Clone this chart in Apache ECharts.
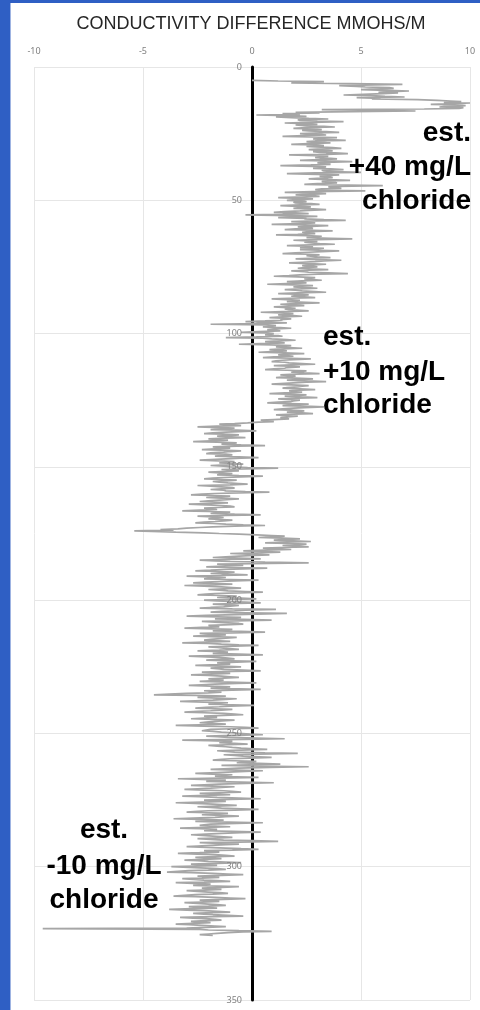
<!DOCTYPE html>
<html>
<head>
<meta charset="utf-8">
<script src="https://cdn.jsdelivr.net/npm/echarts@6/dist/echarts.min.js"></script>
<style>html,body{margin:0;padding:0;background:#fff}#c{width:480px;height:1010px}</style>
</head>
<body>
<div id="c"></div>
<script>
// Depth (m) of the first sample of each segment; samples every 0.25 m
const segStarts = [5, 19, 51, 101, 134, 174, 176, 184, 230, 290];
const depthStep = 0.25;
const xTicks = [-10, -5, 0, 5, 10];
const yTicks = [0, 50, 100, 150, 200, 250, 300, 350];
const titleText = 'CONDUCTIVITY DIFFERENCE MMOHS/M';

const segA = [
  0, 1.2, 3.3, 2.0, 1.8, 4.5, 6.9, 5.6, 4.0, 4.8, 5.2, 6.3, 6.5, 5.4, 5.0, 6.2, 7.2, 6.4, 5.8, 6.7,
  6.0, 5.1, 4.2, 5.5, 6.1, 7.0, 4.8, 5.9, 5.5, 7.6, 8.5, 9.1, 9.6, 8.8, 10.0, 9.3, 8.2, 9.5, 9.8, 8.9,
  8.6, 9.7, 9.5, 7.9, 3.2, 5.8, 7.5, 4.6, 2.0, 3.1, 1.4, 2.2, 0.2, 1.6, 2.5, 1.1];
const segB = [
  1.8, 2.6, 3.5, 2.1, 2.2, 3.0, 4.2, 2.7, 1.5, 2.4, 3.0, 2.0, 2.4, 3.3, 3.8, 2.5, 1.9, 2.8, 3.2, 2.3,
  2.6, 3.4, 4.0, 2.9, 2.2, 3.1, 3.4, 2.4, 1.4, 2.7, 3.9, 3.0, 2.8, 3.5, 4.3, 2.9, 2.5, 3.2, 3.6, 2.6,
  1.8, 2.9, 3.3, 2.5, 2.9, 3.7, 4.1, 3.2, 2.6, 3.3, 3.7, 2.8, 3.1, 3.8, 4.4, 3.4, 1.7, 2.9, 3.5, 3.0,
  2.9, 3.6, 3.9, 3.1, 2.2, 3.4, 4.6, 3.3, 3.0, 3.5, 3.6, 2.7, 1.3, 2.8, 3.4, 3.1, 2.8, 3.6, 4.2, 3.2,
  3.3, 3.7, 5.0, 2.9, 1.6, 3.0, 4.0, 3.4, 3.1, 3.6, 3.7, 3.0, 2.6, 3.5, 4.5, 3.3, 3.2, 3.8, 3.9, 3.0,
  2.4, 3.6, 6.0, 3.9, 3.5, 3.8, 4.1, 3.2, 2.9, 3.4, 5.2, 2.8, 1.5, 2.7, 3.4, 2.6, 2.0, 2.8, 3.1, 2.4,
  1.2, 2.2, 2.8, 2.0, 1.6, 2.4, 2.5, 1.9];
const segC = [
  2.0, 2.7, 3.1, 2.2, 1.3, 2.1, 2.7, 2.4, 1.9, 2.8, 3.4, 2.6, 2.2, 1.5, 1.0, 2.0, 2.6, 1.4, -0.3, 1.8,
  3.0, 2.3, 1.2, 2.5, 2.4, 3.3, 4.3, 2.9, 1.8, 2.6, 2.9, 2.2, 0.9, 2.4, 3.5, 2.7, 2.1, 2.6, 2.8, 2.0,
  1.5, 2.8, 3.7, 2.6, 2.3, 2.7, 2.9, 2.1, 1.1, 2.5, 3.2, 2.8, 2.5, 3.6, 4.6, 3.0, 1.9, 2.6, 3.0, 2.4,
  2.4, 3.1, 3.8, 2.7, 1.6, 2.5, 2.8, 2.2, 3.3, 2.9, 2.2, 3.1, 4.0, 3.2, 2.6, 2.0, 1.4, 2.6, 3.1, 2.5,
  2.7, 3.0, 3.6, 2.6, 2.0, 3.0, 4.1, 3.3, 2.9, 2.3, 1.7, 2.6, 3.4, 2.8, 2.3, 2.7, 3.0, 2.4, 2.1, 2.6,
  3.5, 2.6, 1.8, 2.4, 2.6, 3.5, 4.4, 3.0, 2.2, 1.7, 1.0, 2.1, 2.9, 2.5, 2.4, 2.8, 3.2, 2.3, 1.6, 2.2,
  2.5, 1.6, 0.7, 1.9, 2.8, 2.3, 1.9, 2.5, 3.0, 2.2, 1.5, 2.0, 2.3, 2.9, 3.4, 2.1, 1.2, 2.0, 2.6, 2.0,
  1.8, 2.4, 2.9, 1.7, 0.9, 1.6, 2.2, 1.8, 1.6, 2.5, 3.1, 2.0, 1.3, 1.9, 2.4, 1.6, 1.0, 1.6, 2.0, 1.5,
  1.7, 2.2, 2.6, 1.4, 0.4, 1.3, 1.9, 1.5, 1.2, 1.9, 2.3, 1.4, 0.8, 1.4, 1.8, 1.3, 1.4, 0.6, -0.3, 1.0,
  1.6, 0.2, -1.9, 0.6, 1.1, 0.8, 0.5, 1.3, 1.8, 1.1, 0.7, 1.0, 1.3, 0.3, -0.5, 0.6, 1.0, 0.8, 0.6, 1.2];
const segD = [
  1.4, 0.2, -1.2, 0.5, 0.9, 1.6, 2.0, 1.2, 0.6, 1.1, 1.5, 0.4, -0.6, 0.9, 1.8, 1.3, 1.1, 1.7, 2.3, 1.4,
  0.8, 1.3, 1.6, 0.9, 0.3, 1.5, 2.4, 1.6, 1.2, 1.6, 1.9, 1.0, 0.5, 1.8, 2.7, 1.9, 1.4, 1.1, 0.9, 1.5,
  1.7, 2.3, 2.9, 1.8, 1.0, 1.7, 2.2, 1.6, 1.5, 1.0, 0.6, 1.6, 2.5, 2.1, 1.8, 2.4, 3.1, 2.0, 1.3, 1.8,
  2.0, 1.5, 1.1, 2.0, 2.8, 2.2, 1.6, 2.5, 3.4, 2.5, 1.9, 1.3, 0.9, 1.8, 2.6, 2.3, 2.1, 1.6, 1.4, 2.2,
  2.9, 2.2, 1.7, 2.0, 2.3, 1.5, 0.8, 1.7, 2.5, 2.0, 1.5, 2.3, 3.0, 2.1, 1.2, 1.7, 2.2, 1.9, 1.8, 1.2,
  0.7, 1.7, 2.6, 2.0, 1.4, 2.4, 3.3, 2.4, 1.9, 1.4, 1.0, 1.8, 2.4, 2.0, 1.6, 2.3, 2.8, 1.9, 1.1, 1.6,
  2.1, 1.6, 1.3, 1.5, 1.7, 1.0, 0.4, 0.8, 1.0, 0.3, -0.2, -0.8];
const segE = [
  -1.5, -0.9, -0.5, -1.6, -2.5, -1.4, -0.8, -1.3, -1.9, -0.7, 0.2, -0.6, -1.2, -1.8, -2.2, -1.3, -0.6, -1.1, -1.6, -1.0,
  -0.3, -1.2, -2.0, -1.4, -1.1, -1.9, -2.7, -1.6, -0.7, -1.0, -1.4, -0.5, 0.6, -0.7, -1.8, -1.3, -1.0, -1.7, -2.3, -1.4,
  -0.5, -1.0, -1.3, -1.9, -2.1, -1.2, -0.9, -1.4, -1.7, -0.6, 0.3, -0.5, -1.2, -1.9, -2.4, -1.5, -0.8, -1.2, -1.5, -0.9,
  -0.4, -1.2, -1.9, -1.3, -1.0, -0.2, 1.2, -0.3, -1.4, -1.0, -0.6, -1.4, -2.0, -1.5, -0.9, -1.3, -1.6, -0.6, 0.5, -0.5,
  -1.3, -1.8, -2.2, -1.4, -0.7, -1.2, -1.8, -1.5, -1.1, -0.6, -0.2, -1.0, -2.5, -1.9, -1.4, -0.9, -0.8, -1.4, -1.9, -1.3,
  -1.2, -0.3, 0.8, -0.6, -1.7, -2.3, -2.8, -1.9, -1.0, -1.6, -2.1, -1.4, -0.6, -1.0, -1.5, -2.0, -2.4, -1.7, -1.1, -1.9,
  -2.9, -2.1, -1.4, -1.0, -0.8, -1.6, -2.2, -1.8, -1.6, -2.4, -3.2, -2.0, -1.0, -1.5, -1.9, -0.8, 0.4, -1.2, -2.5, -1.8,
  -1.3, -1.7, -2.0, -1.4, -0.9, -1.3, -1.7, -2.2, -2.6, -1.8, -1.2, -0.4, 0.6, -0.8, -1.8, -2.4, -3.0, -3.4, -4.2, -3.6];
const segSpike = [-5.4, -4.6, -3.5, -2.2, -1.5, -0.6, 0.2, 0.9];
const segF = [
  1.5, 0.8, 0.3, 1.4, 2.2, 1.5, 1.0, 1.9, 2.7, 1.6, 0.6, 1.7, 2.5, 2.0, 1.4, 2.1, 2.6, 1.3, 0.5, 1.2,
  1.8, 0.6, -0.4, 0.5, 1.3, 0.2, -1.0, -0.2, 0.8, 0.1, -0.6, -1.2];
const segG = [
  -1.8, -0.6, 0.4, -1.1, -2.4, -1.7, -1.0, 0.6, 2.6, 0.8, -1.6, -1.0, -0.4, -1.3, -2.1, -1.2, 0.7, -0.4, -1.3, -1.9,
  -2.6, -1.5, -0.8, -1.3, -1.9, -1.0, -0.2, -1.4, -3.0, -2.0, -1.2, -1.7, -2.2, -1.0, 0.3, -0.8, -1.5, -2.1, -2.7, -1.6,
  -0.9, -2.0, -3.1, -2.2, -1.4, -0.9, -0.5, -1.3, -2.0, -1.5, -1.1, -0.3, 0.5, -0.6, -1.7, -2.1, -2.5, -1.4, -0.7, -1.1,
  -1.6, -0.5, 0.2, -1.0, -2.2, -1.6, -1.0, -0.3, 0.4, -0.7, -1.8, -1.2, -0.6, -1.0, -1.3, -1.9, -2.4, -0.9, 1.1, -0.3,
  -0.8, -1.4, -1.9, -0.3, 1.6, 0.2, -1.2, -2.1, -3.0, -1.6, -0.5, -1.1, -1.7, -0.4, 0.9, -0.8, -2.3, -1.7, -1.1, -0.6,
  -0.4, -1.3, -2.0, -1.7, -1.5, -2.3, -3.1, -1.8, -0.9, -1.4, -1.8, -0.5, 0.6, -0.9, -2.4, -1.8, -1.2, -1.9, -2.7, -1.5,
  -0.7, -1.2, -1.6, -1.9, -2.2, -1.5, -1.0, -2.1, -3.2, -2.0, -1.4, -0.6, 0.3, -0.8, -2.0, -1.6, -1.3, -0.9, -0.6, -1.5,
  -2.5, -1.7, -1.1, -1.5, -1.8, -0.6, 0.5, -1.2, -2.9, -2.1, -1.5, -1.1, -0.8, -1.5, -2.1, -0.9, 0.2, -0.7, -1.6, -1.2,
  -1.0, -1.9, -2.6, -1.4, -0.5, -1.2, -1.9, -1.5, -1.3, -0.4, 0.4, -0.9, -2.3, -1.6, -1.0, -1.9, -2.8, -2.0, -1.4, -1.0,
  -0.6, -1.3, -2.0, -1.6];
const segH = [
  -1.3, -1.9, -2.4, -1.1, 0.2, -0.7, -1.7, -2.3, -2.9, -1.9, -1.0, -1.4, -1.9, -0.6, 0.4, -0.9, -2.2, -1.8, -1.4, -2.0,
  -3.0, -3.8, -4.5, -2.6, -1.2, -1.9, -2.5, -1.6, -0.7, -1.2, -1.8, -2.6, -3.3, -2.2, -1.1, -1.6, -2.0, -0.9, 0.1, -1.0,
  -1.5, -2.1, -2.6, -1.7, -0.9, -1.4, -1.9, -2.5, -3.1, -2.2, -1.3, -0.8, -0.4, -1.3, -2.2, -1.9, -1.6, -2.2, -2.8, -1.8,
  -0.8, -1.2, -1.7, -2.1, -2.4, -1.8, -1.2, -2.4, -3.5, -2.2, -1.0, -0.3, 0.3, -0.9, -1.9, -2.1, -2.3, -1.8, -1.4, -0.9,
  -0.6, -0.1, 0.5, -0.8, -2.1, -1.6, -1.1, 0.2, 1.5, -0.4, -3.2, -2.0, -0.9, -1.2, -1.5, -0.8, -0.2, -1.1, -2.0, -1.6,
  -1.2, -0.9, -0.5, 0.1, 0.7, -0.5, -1.6, -1.2, -0.8, 0.6, 2.1, 0.3, -1.3, -0.8, -0.4, 0.3, 0.9, -0.1, -1.0, -1.4,
  -1.8, -0.8, 0.2, -0.3, -0.7, 0.3, 1.3, -0.1, -1.4, 0.4, 2.6, 0.8, -0.6, -1.3, -1.9, -0.7, 0.5, -0.3, -1.1, -1.9,
  -2.6, -1.8, -0.9, -1.3, -1.7, -0.7, 0.3, -1.5, -3.4, -2.3, -1.2, -1.7, -2.1, -0.5, 1.0, -0.3, -1.5, -2.2, -2.8, -1.8,
  -0.8, -1.4, -1.9, -2.5, -3.1, -2.2, -1.3, -0.9, -0.5, -1.5, -2.4, -1.7, -1.0, -2.1, -3.2, -2.4, -1.6, -0.6, 0.4, -1.0,
  -2.2, -1.7, -1.2, -2.3, -3.5, -2.6, -1.8, -1.2, -0.7, -1.6, -2.5, -1.9, -1.4, -0.5, 0.3, -0.8, -2.0, -2.5, -3.0, -2.0,
  -1.1, -1.7, -2.3, -1.4, -0.6, -1.2, -1.7, -2.7, -3.6, -2.4, -1.3, -2.0, -2.6, -1.1, 0.5, -0.7, -1.9, -2.2, -2.4, -1.7,
  -1.0, -2.1, -3.3, -2.4, -1.6, -1.9, -2.2, -0.9, 0.4, -0.5, -1.4, -2.1, -2.8, -2.3, -1.8, -1.3, -0.9, -1.7, -2.5, -1.9];
const segI = [
  -1.3, 0.0, 1.2, -0.6, -2.4, -1.5, -0.6, -1.2, -1.9, -2.5, -3.0, -2.1, -1.2, -0.5, 0.3, -0.9, -2.2, -1.8, -1.5, -2.4,
  -3.4, -2.5, -1.7, -1.2, -0.8, -1.7, -2.6, -2.0, -1.4, -2.2, -3.1, -2.5, -2.0, -1.2, -0.5, -1.6, -2.8, -2.2, -1.6, -2.6,
  -3.7, -2.9, -2.1, -1.6, -1.2, -2.0, -2.9, -3.4, -3.9, -2.8, -1.8, -1.1, -0.4, -1.4, -2.5, -2.0, -1.5, -2.3, -3.2, -2.7,
  -2.2, -1.6, -1.0, -2.2, -3.5, -2.7, -1.9, -2.3, -2.7, -1.6, -0.6, -1.4, -2.3, -1.9, -1.4, -2.2, -3.0, -2.5, -2.0, -1.5,
  -1.1, -1.8, -2.6, -3.1, -3.6, -2.6, -1.7, -1.0, -0.3, -1.3, -2.4, -2.0, -1.5, -2.3, -3.1, -2.5, -2.0, -1.6, -1.2, -2.0,
  -2.9, -2.2, -1.6, -2.7, -3.8, -3.0, -2.2, -1.6, -1.0, -1.8, -2.7, -2.2, -1.8, -1.1, -0.4, -1.8, -3.3, -2.7, -2.1, -1.7,
  -1.4, -2.1, -2.8, -2.3, -1.9, -2.7, -3.5, -2.9, -2.3, -1.7, -1.2, -2.1, -3.0, -9.6, -2.4, -2.0, -0.6, 0.9, -0.4, -1.1,
  -1.6, -2.0, -2.4, -1.8];

const segments = [segA, segB, segC, segD, segE, segSpike, segF, segG, segH, segI];
const data = [];
segments.forEach(function (seg, k) {
  seg.forEach(function (v, i) { data.push([v, segStarts[k] + i * depthStep]); });
});

const annotations = [
  {lines: ['est.', '+40 mg/L', 'chloride'], x: 471, baselines: [143, 177, 211], align: 'right'},
  {lines: ['est.', '+10 mg/L', 'chloride'], x: 323, baselines: [347, 382, 415], align: 'left'},
  {lines: ['est.', '-10 mg/L', 'chloride'], x: 104, baselines: [840, 876, 910], align: 'center'}
];

const graphics = [
  {type: 'rect', shape: {x: 0, y: 0, width: 10, height: 1010}, style: {fill: '#2f5fc4'}, z: 100},
  {type: 'rect', shape: {x: 0, y: 0, width: 480, height: 3}, style: {fill: '#2f5fc4'}, z: 100},
  {type: 'rect', shape: {x: 10, y: 3, width: 1, height: 1007}, style: {fill: '#9fb4e2'}, z: 100},
  {type: 'text', x: 251, y: 24, z: 100, style: {text: titleText, fill: '#262626', font: '18px "Liberation Sans", Arial, sans-serif', textAlign: 'center', textVerticalAlign: 'middle'}}
];
annotations.forEach(function (a) {
  a.lines.forEach(function (t, i) {
    graphics.push({type: 'text', x: a.x, y: a.baselines[i] - 10, z: 100,
      style: {text: t, fill: '#000', font: 'bold 28px "Liberation Sans", Arial, sans-serif', textAlign: a.align, textVerticalAlign: 'middle'}});
  });
});

const chart = echarts.init(document.getElementById('c'), null, {renderer: 'canvas'});
chart.setOption({
  animation: false,
  backgroundColor: '#ffffff',
  grid: {left: 34, right: 10, top: 67, bottom: 10, containLabel: false},
  xAxis: {
    type: 'value', position: 'top', min: xTicks[0], max: xTicks[xTicks.length - 1], interval: 5,
    axisLine: {show: false, onZero: false}, axisTick: {show: false},
    axisLabel: {color: '#808080', fontSize: 9, margin: 11, fontFamily: '"Noto Sans", sans-serif'},
    splitLine: {show: true, lineStyle: {color: '#e6e6e6', width: 1}}
  },
  yAxis: [{
    type: 'value', inverse: true, min: yTicks[0], max: yTicks[yTicks.length - 1], interval: 50,
    axisLine: {show: true, onZero: true, lineStyle: {color: '#000', width: 3}},
    axisTick: {show: false}, axisLabel: {show: false},
    splitLine: {show: true, lineStyle: {color: '#e6e6e6', width: 1}}
  }, {
    type: 'value', inverse: true, min: yTicks[0], max: yTicks[yTicks.length - 1], interval: 50,
    position: 'left', offset: -218, z: 10,
    axisLine: {show: false, onZero: false}, axisTick: {show: false},
    axisLabel: {color: '#808080', fontSize: 9, margin: 10, fontFamily: '"Noto Sans", sans-serif'},
    splitLine: {show: false}
  }],
  series: [{
    type: 'line', data: data, showSymbol: false, symbol: 'none', z: 5,
    lineStyle: {color: '#a6a6a6', width: 1.7}
  }],
  graphic: graphics
});
</script>
</body>
</html>
